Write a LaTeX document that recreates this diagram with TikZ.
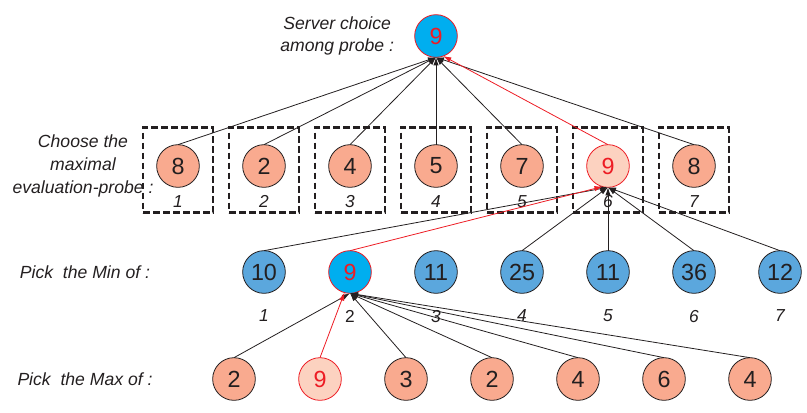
\documentclass[tikz,border=0pt]{standalone}
\usepackage{fontspec}
\setmainfont{Liberation Sans}
\usetikzlibrary{positioning,arrows.meta}
\definecolor{probeSalmon}{RGB}{249,170,143}
\definecolor{probePink}{RGB}{252,210,192}
\definecolor{minBlue}{RGB}{91,167,221}
\definecolor{choiceCyan}{RGB}{0,174,239}
\definecolor{pathRed}{RGB}{237,28,36}
\definecolor{inkGray}{RGB}{35,31,32}

\begin{document}
\begin{tikzpicture}[x=0.75pt, y=-0.75pt, >={Latex[length=6pt,width=4pt]},
    val/.style={circle, draw=inkGray, line width=0.6pt, minimum size=32pt, inner sep=0pt, outer sep=0pt, font=\fontsize{17.5}{17.5}\selectfont, text=inkGray},
    maxval/.style={val, fill=probeSalmon},
    minval/.style={val, fill=minBlue},
    picked/.style={draw=pathRed, text=pathRed},
    probebox/.style={draw=inkGray, line width=1.6pt, dash pattern=on 5pt off 2.5pt, minimum width=52.5pt, minimum height=63.75pt, inner sep=0pt, outer sep=0pt},
    rowlabel/.style={font=\fontsize{13.2}{17}\selectfont\itshape, text=inkGray, align=center},
    idx/.style={font=\fontsize{13}{14}\selectfont\itshape, text=inkGray},
    link/.style={->, line width=0.6pt, inkGray},
    redlink/.style={link, pathRed}]
    \useasboundingbox (0,0) rectangle (807,412);

    % final choice
    \node[val, fill=choiceCyan, picked] (srv) at (436,36) {9};
    \node[rowlabel, left=12pt of srv] (srvlbl) {Server choice\\among probe :};

    % probes
    \node[probebox] (b1) at (178,170) {};
    \node[probebox, right=12pt of b1] (b2) {};
    \node[probebox, right=12pt of b2] (b3) {};
    \node[probebox, right=12pt of b3] (b4) {};
    \node[probebox, right=12pt of b4] (b5) {};
    \node[probebox, right=12pt of b5] (b6) {};
    \node[probebox, right=12pt of b6] (b7) {};

    \node[maxval] (p1) at ([yshift=3pt]b1.center) {8};
    \node[maxval] (p2) at ([yshift=3pt]b2.center) {2};
    \node[maxval] (p3) at ([yshift=3pt]b3.center) {4};
    \node[maxval] (p4) at ([yshift=3pt]b4.center) {5};
    \node[maxval] (p5) at ([yshift=3pt]b5.center) {7};
    \node[val, fill=probePink, picked] (p6) at ([yshift=3pt]b6.center) {9};
    \node[maxval] (p7) at ([yshift=3pt]b7.center) {8};

    \node[idx, above=0pt of b1.south] (bi1) {1};
    \node[idx, above=0pt of b2.south] (bi2) {2};
    \node[idx, above=0pt of b3.south] (bi3) {3};
    \node[idx, above=0pt of b4.south] (bi4) {4};
    \node[idx, above=0pt of b5.south] (bi5) {5};
    \node[idx, above=0pt of b6.south] (bi6) {6};
    \node[idx, above=0pt of b7.south] (bi7) {7};

    \node[rowlabel] (probelbl) at (83,166) {Choose the\\maximal\\evaluation-probe :};

    % minimum row
    \node[minval] (m1) at (264,272) {10};
    \node[val, fill=choiceCyan, picked, right=32.5pt of m1] (m2) {9};
    \node[minval, right=32.5pt of m2] (m3) {11};
    \node[minval, right=32.5pt of m3] (m4) {25};
    \node[minval, right=32.5pt of m4] (m5) {11};
    \node[minval, right=32.5pt of m5] (m6) {36};
    \node[minval, right=32.5pt of m6] (m7) {12};

    \node[idx, below=9pt of m1] (mi1) {1};
    \node[idx, below=9pt of m2] (mi2) {\upshape 2};
    \node[idx, below=9pt of m3] (mi3) {3};
    \node[idx, below=9pt of m4] (mi4) {4};
    \node[idx, below=9pt of m5] (mi5) {5};
    \node[idx, below=9pt of m6] (mi6) {6};
    \node[idx, below=9pt of m7] (mi7) {7};

    \node[rowlabel] (minlbl) at (85,272) {Pick\ \ the Min of :};

    % maximum row
    \node[maxval] (x1) at (234,379) {2};
    \node[val, fill=probePink, picked, right=32.5pt of x1] (x2) {9};
    \node[maxval, right=32.5pt of x2] (x3) {3};
    \node[maxval, right=32.5pt of x3] (x4) {2};
    \node[maxval, right=32.5pt of x4] (x5) {4};
    \node[maxval, right=32.5pt of x5] (x6) {6};
    \node[maxval, right=32.5pt of x6] (x7) {4};

    \node[rowlabel] (maxlbl) at (85,379) {Pick\ \ the Max of :};

    % probes -> server
    \draw[link] (p1.north) -- (srv.south);
    \draw[link] (p2.north) -- (srv.south);
    \draw[link] (p3.north) -- (srv.south);
    \draw[link] (p4.north) -- (srv.south);
    \draw[link] (p5.north) -- (srv.south);
    \draw[link] (p7.north) -- (srv.south);
    \draw[redlink] (p6.north) -- (srv.-70);

    % minimums -> probe 6
    \draw[link] (m1.north) -- (p6.south);
    \draw[link] (m4.north) -- (p6.south);
    \draw[link] (m5.north) -- (p6.south);
    \draw[link] (m6.north) -- (p6.south);
    \draw[link] (m7.north) -- (p6.south);
    \draw[redlink] (m2.north) -- (p6.-105);

    % maximums -> min 2
    \draw[link] (x1.north) -- (m2.south);
    \draw[link] (x3.north) -- (m2.south);
    \draw[link] (x4.north) -- (m2.south);
    \draw[link] (x5.north) -- (m2.south);
    \draw[link] (x6.north) -- (m2.south);
    \draw[link] (x7.north) -- (m2.south);
    \draw[redlink] (x2.north) -- (m2.-105);
\end{tikzpicture}
\end{document}
